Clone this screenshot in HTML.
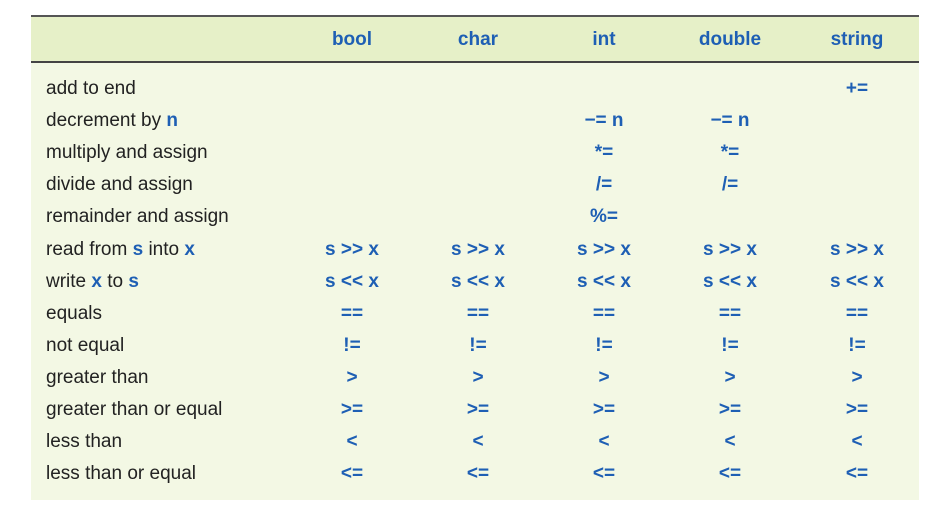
<!DOCTYPE html>
<html><head><meta charset="utf-8"><style>
body{margin:0;width:952px;height:517px;background:#fff;position:relative;font-family:"Liberation Sans",sans-serif;}
#box{position:absolute;left:31px;top:15px;width:888px;height:485px;background:#f3f8e4;}
#hd{position:absolute;left:31px;top:15px;width:888px;height:44px;background:#e6f0c8;border-top:2px solid #555;border-bottom:2px solid #444;}
.t{position:absolute;font-size:19px;line-height:20px;white-space:nowrap;color:#222;}
.c{position:absolute;font-size:19px;line-height:20px;white-space:nowrap;color:#1e5fb4;font-weight:bold;transform:translateX(-50%);}
b{color:#1e5fb4;}
</style></head><body>
<div id="box"></div><div id="hd"></div>
<div class="c" style="left:352px;top:30px">bool</div>
<div class="c" style="left:478px;top:30px">char</div>
<div class="c" style="left:604px;top:30px">int</div>
<div class="c" style="left:730px;top:30px">double</div>
<div class="c" style="left:857px;top:30px">string</div>
<div id="rows"></div>
<script>
var rows=[["add to end",["","","","","+="]],
["decrement by <b>n</b>",["","","&minus;= n","&minus;= n",""]],
["multiply and assign",["","","*=","*=",""]],
["divide and assign",["","","/=","/=",""]],
["remainder and assign",["","","%=","",""]],
["read from <b>s</b> into <b>x</b>",Array(5).fill("s &gt;&gt; x")],
["write <b>x</b> to <b>s</b>",Array(5).fill("s &lt;&lt; x")],
["equals",Array(5).fill("==")],
["not equal",Array(5).fill("!=")],
["greater than",Array(5).fill("&gt;")],
["greater than or equal",Array(5).fill("&gt;=")],
["less than",Array(5).fill("&lt;")],
["less than or equal",Array(5).fill("&lt;=")]];
var xs=[352,478,604,730,857],h="";
rows.forEach(function(r,i){var y=79+i*32.1;
h+='<div class="t" style="left:46px;top:'+y+'px">'+r[0]+'</div>';
r[1].forEach(function(v,j){if(v)h+='<div class="c" style="left:'+xs[j]+'px;top:'+y+'px">'+v+'</div>';});});
document.getElementById("rows").innerHTML=h;
</script>
</body></html>
